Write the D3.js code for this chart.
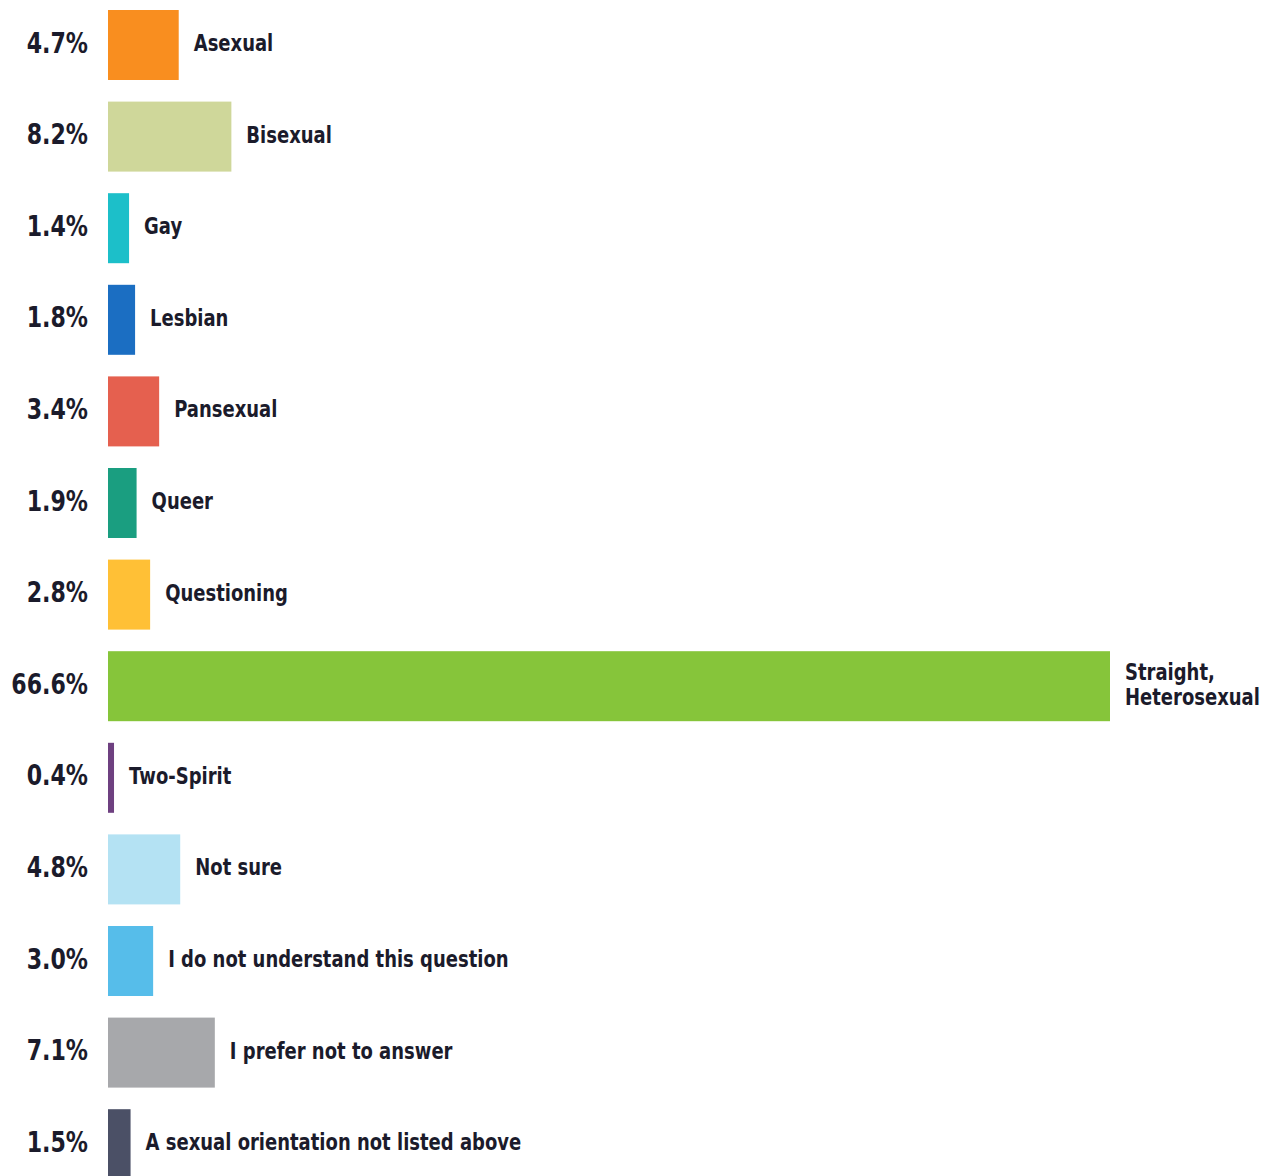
<!DOCTYPE html>
<html>
<head>
<meta charset="utf-8">
<script src="https://cdn.jsdelivr.net/npm/d3@7"></script>
<style>
  html, body { margin: 0; padding: 0; background: #fff; }
  svg text { font-family: "DejaVu Sans", sans-serif; font-weight: 700; fill: #1b1b2b; }
</style>
</head>
<body>
<div id="chart"></div>
<script>
// Sexual orientation shares, one bar per answer, value label left and name right.
const categories = [
  "Asexual", "Bisexual", "Gay", "Lesbian", "Pansexual", "Queer", "Questioning",
  "Straight,\nHeterosexual", "Two-Spirit", "Not sure", "I do not understand this question",
  "I prefer not to answer", "A sexual orientation not listed above"
];
const values = [4.7, 8.2, 1.4, 1.8, 3.4, 1.9, 2.8, 66.6, 0.4, 4.8, 3.0, 7.1, 1.5];
const colors = [
  "#f98e1f", "#cfd79a", "#1cbfc9", "#1b6ec2", "#e5604f", "#1a9e80", "#ffc036",
  "#86c53a", "#6e4080", "#b4e2f3", "#56bdea", "#a7a8ab", "#4b5066"
];

const width = 1268, height = 1176;
const svg = d3.select("#chart").append("svg")
  .attr("width", width).attr("height", height).attr("viewBox", `0 0 ${width} ${height}`);

const x = d3.scaleLinear().domain([0, 66.6]).range([108, 1110]);
const y = d3.scaleBand().domain(categories).range([10, 1179.2]).paddingInner(0.2358).paddingOuter(0);

// the source font is a condensed face; squeeze DejaVu horizontally to match
const squeezeValue = 0.79;
const squeezeName = 0.8;

const rows = svg.selectAll("g.row").data(categories).join("g").attr("class", "row");

rows.append("rect")
  .attr("x", x(0))
  .attr("y", (d) => y(d))
  .attr("width", (d, i) => x(values[i]) - x(0))
  .attr("height", y.bandwidth())
  .attr("fill", (d, i) => colors[i]);

rows.append("text")
  .attr("transform", (d) => `translate(88,${y(d) + y.bandwidth() / 2}) scale(${squeezeValue},1)`)
  .attr("dy", "0.27em")
  .attr("text-anchor", "end")
  .attr("font-size", 28)
  .text((d, i) => values[i].toFixed(1) + "%");

rows.append("text")
  .attr("transform", (d, i) => `translate(${x(values[i]) + 15},${y(d) + y.bandwidth() / 2}) scale(${squeezeName},1)`)
  .attr("font-size", 22.5)
  .each(function (d) {
    const lines = d.split("\n");
    const lh = 25;
    const t = d3.select(this);
    lines.forEach((ln, k) => {
      t.append("tspan")
        .attr("x", 0)
        .attr("dy", k === 0 ? `${0.27 * 22.5 - (lines.length - 1) * lh / 2}px` : `${lh}px`)
        .text(ln);
    });
  });
</script>
</body>
</html>
